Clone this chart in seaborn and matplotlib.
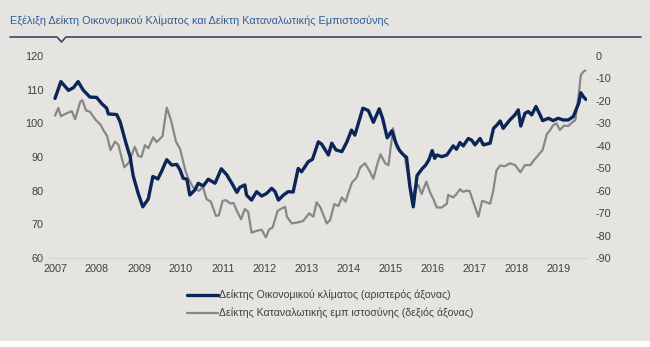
import matplotlib
matplotlib.use("Agg")
import matplotlib.pyplot as plt
import seaborn as sns
import pandas as pd
from matplotlib.lines import Line2D
from matplotlib.patches import Rectangle

# ---------------- data ----------------
esi_year = [2007.00, 2007.14, 2007.32, 2007.44, 2007.55, 2007.67, 2007.83, 2007.99,
            2008.11, 2008.23, 2008.27, 2008.47, 2008.55, 2008.69, 2008.79, 2008.86,
            2008.98, 2009.09, 2009.22, 2009.33, 2009.45, 2009.54, 2009.66, 2009.78,
            2009.90, 2009.98, 2010.05, 2010.14, 2010.21, 2010.33, 2010.41, 2010.53,
            2010.65, 2010.81, 2010.96, 2011.09, 2011.21, 2011.33, 2011.40, 2011.52,
            2011.56, 2011.68, 2011.80, 2011.92, 2012.04, 2012.16, 2012.24, 2012.32,
            2012.44, 2012.55, 2012.67, 2012.79, 2012.87, 2012.95, 2013.03, 2013.13,
            2013.27, 2013.35, 2013.51, 2013.59, 2013.69, 2013.83, 2013.95, 2014.06,
            2014.14, 2014.33, 2014.46, 2014.58, 2014.72, 2014.80, 2014.91, 2015.02,
            2015.12, 2015.20, 2015.30, 2015.37, 2015.45, 2015.53, 2015.62, 2015.74,
            2015.82, 2015.90, 2015.98, 2016.04, 2016.09, 2016.21, 2016.33, 2016.48,
            2016.56, 2016.64, 2016.72, 2016.84, 2016.92, 2017.00, 2017.12, 2017.20,
            2017.36, 2017.44, 2017.52, 2017.60, 2017.67, 2017.83, 2017.95, 2018.03,
            2018.09, 2018.19, 2018.27, 2018.35, 2018.45, 2018.53, 2018.61, 2018.75,
            2018.86, 2018.98, 2019.10, 2019.22, 2019.34, 2019.47, 2019.52, 2019.58,
            2019.64]
esi_value = [107.4, 112.4, 109.8, 110.6, 112.4, 109.9, 107.8, 107.7,
             105.9, 104.5, 102.8, 102.6, 100.5, 94.1, 90.0, 84.5,
             79.2, 75.2, 77.5, 84.2, 83.5, 85.8, 89.2, 87.6,
             87.8, 86.1, 83.7, 83.4, 78.7, 80.2, 82.2, 81.4,
             83.4, 82.2, 86.5, 84.7, 82.2, 79.5, 81.0, 81.7,
             78.7, 77.2, 79.7, 78.4, 79.2, 80.7, 79.7, 77.2,
             78.7, 79.7, 79.6, 86.6, 85.6, 87.1, 88.6, 89.3,
             94.5, 93.8, 90.6, 94.1, 92.1, 91.6, 94.5, 98.0,
             96.5, 104.5, 103.8, 100.3, 104.3, 101.5, 95.7, 97.8,
             94.0, 92.0, 90.6, 89.9, 81.2, 75.2, 84.5, 86.5,
             87.5, 89.1, 91.9, 89.6, 90.6, 90.1, 90.6, 93.3,
             92.3, 94.3, 93.3, 95.5, 95.0, 93.6, 95.5, 93.6,
             94.1, 98.5, 99.5, 100.7, 98.5, 101.0, 102.5, 104.0,
             99.2, 103.0, 103.5, 102.5, 105.0, 103.0, 100.8, 101.5,
             100.8, 101.5, 101.0, 101.0, 102.0, 106.0, 109.1, 107.9,
             107.1]

cci_year = [2007.00, 2007.08, 2007.14, 2007.28, 2007.40, 2007.48, 2007.60, 2007.65,
            2007.74, 2007.83, 2007.97, 2008.09, 2008.15, 2008.24, 2008.32, 2008.43,
            2008.51, 2008.59, 2008.65, 2008.76, 2008.90, 2008.98, 2009.06, 2009.14,
            2009.22, 2009.34, 2009.42, 2009.56, 2009.66, 2009.76, 2009.88, 2009.98,
            2010.10, 2010.17, 2010.29, 2010.43, 2010.52, 2010.61, 2010.71, 2010.83,
            2010.90, 2010.99, 2011.07, 2011.17, 2011.25, 2011.32, 2011.43, 2011.52,
            2011.60, 2011.68, 2011.80, 2011.92, 2012.02, 2012.10, 2012.18, 2012.30,
            2012.40, 2012.48, 2012.52, 2012.64, 2012.77, 2012.91, 2013.05, 2013.15,
            2013.23, 2013.32, 2013.47, 2013.55, 2013.65, 2013.75, 2013.83, 2013.92,
            2013.98, 2014.07, 2014.18, 2014.27, 2014.38, 2014.50, 2014.58, 2014.68,
            2014.75, 2014.86, 2014.94, 2015.05, 2015.14, 2015.25, 2015.33, 2015.45,
            2015.50, 2015.57, 2015.65, 2015.73, 2015.84, 2015.93, 2016.01, 2016.09,
            2016.21, 2016.33, 2016.36, 2016.48, 2016.56, 2016.64, 2016.72, 2016.79,
            2016.87, 2017.00, 2017.08, 2017.17, 2017.27, 2017.36, 2017.43, 2017.51,
            2017.60, 2017.71, 2017.83, 2017.95, 2018.08, 2018.19, 2018.32, 2018.40,
            2018.50, 2018.61, 2018.71, 2018.79, 2018.86, 2018.94, 2019.02, 2019.12,
            2019.22, 2019.32, 2019.39, 2019.47, 2019.52, 2019.58, 2019.63]
cci_value = [-26.6, -23.1, -26.8, -25.5, -24.6, -28.2, -20.4, -19.7,
             -24.3, -24.8, -28.5, -30.7, -33.0, -35.6, -41.9, -38.2,
             -39.6, -45.6, -49.6, -47.5, -40.4, -44.5, -44.9, -39.7,
             -41.1, -36.2, -38.4, -35.7, -23.0, -28.5, -38.1, -41.5,
             -50.8, -54.5, -58.6, -60.1, -58.2, -63.8, -64.9, -71.2,
             -71.0, -64.6, -64.2, -65.7, -65.5, -68.6, -72.7, -68.2,
             -69.4, -78.7, -77.9, -77.4, -80.8, -77.2, -76.5, -69.0,
             -67.9, -67.2, -71.6, -74.6, -74.2, -73.5, -70.1, -71.6,
             -65.2, -67.5, -74.6, -73.1, -66.0, -66.8, -63.0, -64.9,
             -61.2, -56.4, -54.2, -49.6, -47.8, -51.6, -54.7, -47.8,
             -43.8, -47.8, -48.6, -32.2, -40.8, -43.4, -44.9, -58.2,
             -62.5, -59.4, -57.5, -61.5, -56.0, -60.8, -63.8, -67.5,
             -67.5, -65.8, -61.9, -63.0, -61.5, -59.4, -60.5, -60.0,
             -60.1, -67.2, -71.6, -64.5, -65.2, -65.8, -60.5, -51.0,
             -48.8, -49.1, -47.8, -48.5, -51.8, -48.6, -48.6, -46.5,
             -44.3, -41.9, -34.8, -33.0, -30.8, -30.0, -33.0, -31.0,
             -31.2, -29.5, -28.5, -17.0, -8.5, -7.0, -6.5]

year_ticks = list(range(2007, 2020))
left_ticks = [60, 70, 80, 90, 100, 110, 120]
right_ticks = [0, -10, -20, -30, -40, -50, -60, -70, -80, -90]

title_text = "Εξέλιξη Δείκτη Οικονομικού Κλίματος και Δείκτη Καταναλωτικής Εμπιστοσύνης"
label_esi = "Δείκτης Οικονομικού κλίματος (αριστερός άξονας)"
label_cci = "Δείκτης Καταναλωτικής εμπ ιστοσύνης (δεξιός άξονας)"

# ---------------- styling ----------------
sns.set_theme(style="white")
plt.rcParams['font.family'] = ['Liberation Sans', 'DejaVu Sans']
plt.rcParams['axes.unicode_minus'] = False

NAVY = '#0B2559'
GREY = '#878787'
BG = '#E5E4E0'
TXT = '#404040'

W, H = 650, 347
fig = plt.figure(figsize=(6.5, 3.47), dpi=100)
fig.patch.set_facecolor('white')
fig.patches.append(Rectangle((0, 1 - 341 / H), 1, 341 / H, transform=fig.transFigure,
                             facecolor=BG, edgecolor='none', zorder=-10))

# title and underline with notch
fig.text(10 / W, 1 - 21 / H, title_text, fontsize=7.8, color='#2E5E97',
         ha='left', va='center')
ux = [10, 57, 61.5, 66, 641]
uy = [37, 37, 42, 37, 37]
fig.add_artist(Line2D([x / W for x in ux], [1 - y / H for y in uy],
                      transform=fig.transFigure, color='#34496A', lw=1.2))

x0_px, x1_px = 50, 586.7
y_top, y_bot = 56, 258
ax1 = fig.add_axes([x0_px / W, 1 - y_bot / H, (x1_px - x0_px) / W, (y_bot - y_top) / H])
ax2 = ax1.twinx()

sns.lineplot(x=cci_year, y=cci_value, ax=ax2, color=GREY, lw=1.6, sort=False,
             estimator=None)
sns.lineplot(x=esi_year, y=esi_value, ax=ax1, color=NAVY, lw=2.4, sort=False,
             estimator=None)

ax1.set_zorder(ax2.get_zorder() + 1)
for a in (ax1, ax2):
    a.patch.set_visible(False)
    for s in a.spines.values():
        s.set_visible(False)
ax1.spines['bottom'].set_visible(True)
ax1.spines['bottom'].set_color('#D4D3CF')
ax1.spines['bottom'].set_linewidth(0.8)

ax1.set_xlim(2007 - 5 / 42, 2007 + (x1_px - 55) / 42)
ax1.set_ylim(60, 120)
ax2.set_ylim(-90, 0)

ax1.set_xticks(year_ticks)
ax1.set_xticklabels([str(y) for y in year_ticks])
ax1.set_yticks(left_ticks)
ax1.set_yticklabels([str(v) for v in left_ticks])
ax2.set_yticks(right_ticks)
ax2.set_yticklabels([str(v) for v in right_ticks])

ax1.tick_params(axis='x', length=0, pad=4, labelsize=7.8, colors=TXT)
ax1.tick_params(axis='y', length=0, pad=4.5, labelsize=7.8, colors=TXT)
ax2.tick_params(axis='y', length=0, pad=6.5, labelsize=7.8, colors=TXT)
ax1.grid(False)
ax2.grid(False)
ax1.set_xlabel('')
ax1.set_ylabel('')
ax2.set_ylabel('')

handles = [Line2D([], [], color=NAVY, lw=2.4), Line2D([], [], color=GREY, lw=1.6)]
fig.legend(handles, [label_esi, label_cci], loc='center',
           bbox_to_anchor=(0.508, 1 - 304 / H), frameon=False, fontsize=7.6,
           handlelength=2.9, handletextpad=0.1, labelspacing=0.7,
           labelcolor=TXT, borderpad=0)

fig.savefig('out.png', dpi=100, facecolor=fig.get_facecolor())
